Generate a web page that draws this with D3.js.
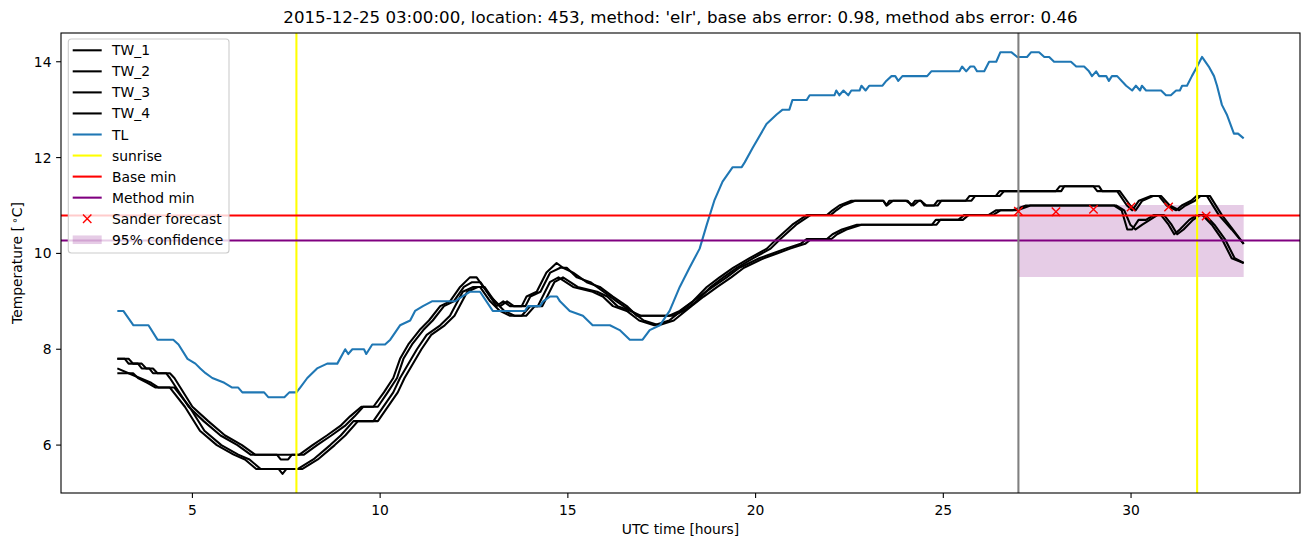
<!DOCTYPE html>
<html><head><meta charset="utf-8">
<script src="https://cdn.jsdelivr.net/npm/d3@7"></script>
<style>body{margin:0;background:#fff}svg{font-family:"DejaVu Sans",sans-serif}</style>
</head><body>
<svg id="c" width="1310" height="547"></svg>
<script>
// ---------- data ----------
const titleText = "2015-12-25 03:00:00, location: 453, method: 'elr', base abs error: 0.98, method abs error: 0.46";
const xTicks = [5, 10, 15, 20, 25, 30];
const yTicks = [6, 8, 10, 12, 14];

const TW_1 = [[3.0,7.8],[3.2,7.8],[3.3,7.7],[3.55,7.7],[3.65,7.6],[3.85,7.6],[3.95,7.5],[4.3,7.5],[4.4,7.4],[4.9,6.8],[5.3,6.5],[5.75,6.2],[6.2,6.0],[6.55,5.8],[7.3,5.8],[7.85,5.8],[8.2,6.0],[8.58,6.2],[8.94,6.4],[9.2,6.6],[9.5,6.8],[9.82,6.8],[10.1,7.1],[10.35,7.4],[10.53,7.8],[10.75,8.1],[11.05,8.4],[11.3,8.6],[11.6,8.9],[11.86,9.0],[12.13,9.3],[12.39,9.5],[12.57,9.5],[12.84,9.2],[13.1,8.9],[13.28,9.0],[13.46,8.9],[13.77,8.9],[13.9,9.1],[14.17,9.2],[14.43,9.6],[14.7,9.8],[14.87,9.7],[15.14,9.6],[15.5,9.4],[15.85,9.3],[16.2,9.1],[16.57,8.9],[16.84,8.7],[17.7,8.7],[17.98,8.8],[18.33,9.0],[18.7,9.3],[19.04,9.5],[19.4,9.7],[19.84,9.9],[20.3,10.1],[20.56,10.3],[20.98,10.6],[21.36,10.8],[21.9,10.8],[22.05,10.9],[22.23,11.0],[22.55,11.1],[23.4,11.1],[23.48,11.0],[23.56,11.1],[24.05,11.1],[24.15,11.0],[24.25,11.1],[24.4,11.1],[24.5,11.0],[24.75,11.0],[24.85,11.1],[25.6,11.1],[25.7,11.2],[26.4,11.2],[26.5,11.3],[28.14,11.3],[28.22,11.4],[29.15,11.4],[29.23,11.3],[29.63,11.3],[29.89,11.0],[30.03,10.9],[30.21,11.1],[30.53,11.2],[30.74,11.2],[30.95,11.0],[31.2,10.9],[31.35,11.0],[31.6,11.1],[31.75,11.2],[32.02,11.2],[32.34,10.8],[32.68,10.5],[33.0,10.2]];

const TW_2 = [[3.0,7.8],[3.3,7.8],[3.42,7.7],[3.65,7.7],[3.77,7.6],[3.95,7.6],[4.07,7.5],[4.4,7.5],[4.52,7.4],[5.0,6.8],[5.42,6.5],[5.87,6.2],[6.32,6.0],[6.67,5.8],[7.25,5.8],[7.35,5.7],[7.55,5.7],[7.65,5.8],[7.97,5.8],[8.32,6.0],[8.7,6.2],[9.06,6.4],[9.32,6.6],[9.55,6.8],[9.94,6.8],[10.2,7.1],[10.45,7.4],[10.62,7.8],[10.85,8.1],[11.15,8.4],[11.4,8.6],[11.7,8.9],[11.96,9.0],[12.23,9.3],[12.45,9.4],[12.67,9.4],[12.94,9.1],[13.2,8.9],[13.38,9.0],[13.56,8.9],[13.87,8.9],[14.0,9.1],[14.27,9.2],[14.53,9.6],[14.8,9.7],[14.97,9.7],[15.24,9.5],[15.6,9.4],[15.95,9.2],[16.3,9.0],[16.67,8.8],[16.94,8.7],[17.8,8.7],[18.08,8.8],[18.43,9.0],[18.8,9.3],[19.14,9.5],[19.5,9.7],[19.94,9.9],[20.4,10.1],[20.66,10.3],[21.08,10.6],[21.46,10.8],[22.0,10.8],[22.15,10.9],[22.33,11.0],[22.65,11.1],[23.4,11.1],[23.5,11.0],[23.66,11.1],[24.0,11.1],[24.2,11.0],[24.35,11.1],[24.4,11.1],[24.55,11.0],[24.85,11.0],[24.95,11.1],[25.75,11.1],[25.85,11.2],[26.5,11.2],[26.62,11.3],[28.0,11.3],[28.1,11.4],[29.0,11.4],[29.1,11.3],[29.7,11.3],[29.98,11.0],[30.12,10.9],[30.3,11.1],[30.6,11.2],[30.8,11.2],[31.03,11.0],[31.28,10.9],[31.45,11.0],[31.7,11.1],[31.85,11.2],[32.1,11.2],[32.42,10.8],[32.76,10.45],[33.0,10.2]];

const TW_3 = [[3.0,7.6],[3.3,7.5],[3.6,7.4],[3.9,7.3],[4.1,7.2],[4.4,7.2],[4.8,6.8],[5.2,6.3],[5.65,6.0],[6.1,5.8],[6.4,5.7],[6.7,5.5],[7.8,5.5],[8.22,5.7],[8.67,6.0],[8.95,6.2],[9.29,6.5],[9.82,6.5],[10.35,7.1],[10.53,7.4],[10.98,8.0],[11.24,8.3],[11.6,8.5],[11.86,8.7],[12.2,9.2],[12.48,9.3],[12.66,9.3],[12.93,9.0],[13.19,8.8],[13.46,8.7],[13.77,8.7],[14.0,8.9],[14.2,8.9],[14.52,9.4],[14.75,9.5],[15.14,9.3],[15.66,9.2],[15.93,9.1],[16.2,8.9],[16.57,8.8],[16.9,8.6],[17.3,8.5],[17.7,8.6],[18.17,8.9],[18.5,9.1],[18.86,9.3],[19.23,9.5],[19.57,9.7],[20.1,9.9],[20.45,10.0],[20.8,10.1],[21.2,10.2],[21.36,10.3],[21.9,10.3],[22.05,10.4],[22.3,10.5],[22.7,10.6],[24.7,10.6],[24.8,10.7],[25.4,10.7],[25.55,10.8],[26.2,10.8],[26.4,10.9],[26.85,10.9],[27.2,11.0],[29.55,11.0],[29.75,10.9],[29.9,10.5],[30.03,10.5],[30.2,10.7],[30.4,10.7],[30.6,10.8],[30.8,10.8],[31.0,10.6],[31.15,10.4],[31.3,10.5],[31.55,10.7],[31.75,10.8],[31.9,10.8],[32.15,10.6],[32.42,10.3],[32.68,9.9],[33.0,9.8]];

const TW_4 = [[3.0,7.5],[3.42,7.5],[3.55,7.4],[3.8,7.3],[4.02,7.2],[4.52,7.2],[4.92,6.8],[5.32,6.3],[5.77,6.0],[6.22,5.8],[6.52,5.7],[6.82,5.5],[7.3,5.5],[7.4,5.4],[7.5,5.5],[7.92,5.5],[8.34,5.7],[8.79,6.0],[9.07,6.2],[9.41,6.5],[9.94,6.5],[10.47,7.1],[10.65,7.4],[11.1,8.0],[11.36,8.3],[11.72,8.5],[11.98,8.7],[12.32,9.2],[12.6,9.3],[12.78,9.3],[13.05,9.0],[13.31,8.8],[13.58,8.7],[13.89,8.7],[14.12,8.9],[14.32,8.9],[14.64,9.4],[14.87,9.5],[15.26,9.3],[15.78,9.2],[16.05,9.1],[16.32,8.9],[16.69,8.8],[17.02,8.6],[17.42,8.5],[17.82,8.6],[18.29,8.9],[18.62,9.1],[18.98,9.3],[19.35,9.5],[19.69,9.7],[20.22,9.9],[20.57,10.0],[20.92,10.1],[21.32,10.2],[21.48,10.3],[22.02,10.3],[22.17,10.4],[22.42,10.5],[22.82,10.6],[24.82,10.6],[24.92,10.7],[25.52,10.7],[25.67,10.8],[26.32,10.8],[26.52,10.9],[26.97,10.9],[27.32,11.0],[29.6,11.0],[29.82,10.9],[29.98,10.6],[30.12,10.5],[30.3,10.6],[30.5,10.7],[30.7,10.8],[30.88,10.8],[31.08,10.6],[31.23,10.4],[31.4,10.5],[31.65,10.7],[31.83,10.8],[31.98,10.8],[32.22,10.6],[32.5,10.3],[32.76,9.9],[33.0,9.8]];

const TL = [[3.0,8.8],[3.16,8.8],[3.43,8.5],[3.83,8.5],[4.07,8.2],[4.49,8.2],[4.63,8.1],[4.87,7.8],[5.08,7.7],[5.21,7.6],[5.35,7.5],[5.53,7.4],[5.85,7.3],[6.06,7.2],[6.22,7.2],[6.33,7.1],[6.91,7.1],[7.02,7.0],[7.45,7.0],[7.58,7.1],[7.77,7.1],[7.87,7.2],[8.06,7.4],[8.32,7.6],[8.59,7.7],[8.86,7.7],[9.07,8.0],[9.15,7.9],[9.26,8.0],[9.57,8.0],[9.63,7.9],[9.79,8.1],[10.13,8.1],[10.27,8.2],[10.53,8.5],[10.8,8.6],[10.93,8.8],[11.14,8.9],[11.38,9.0],[11.99,9.0],[12.18,9.1],[12.39,9.2],[12.66,9.2],[13.0,8.8],[13.86,8.8],[13.94,8.9],[14.26,8.9],[14.34,9.0],[14.52,9.1],[14.71,9.1],[14.79,9.0],[15.05,8.8],[15.4,8.7],[15.66,8.5],[16.12,8.5],[16.38,8.4],[16.65,8.2],[16.99,8.2],[17.18,8.4],[17.45,8.5],[17.71,8.8],[17.98,9.3],[18.24,9.7],[18.51,10.1],[18.7,10.6],[18.9,11.1],[19.12,11.5],[19.39,11.8],[19.63,11.8],[19.71,11.9],[19.92,12.2],[20.29,12.7],[20.56,12.9],[20.72,13.0],[20.9,13.0],[20.98,13.2],[21.36,13.2],[21.44,13.3],[22.1,13.3],[22.15,13.4],[22.23,13.3],[22.34,13.4],[22.47,13.3],[22.55,13.4],[22.77,13.4],[22.82,13.5],[22.93,13.4],[23.03,13.5],[23.38,13.5],[23.48,13.6],[23.62,13.7],[23.72,13.7],[23.8,13.6],[23.91,13.7],[24.57,13.7],[24.68,13.8],[25.43,13.8],[25.5,13.9],[25.61,13.8],[25.72,13.9],[25.82,13.9],[25.9,13.8],[26.09,13.8],[26.22,14.0],[26.41,14.0],[26.52,14.2],[26.81,14.2],[26.97,14.1],[27.23,14.1],[27.34,14.2],[27.55,14.2],[27.69,14.1],[27.82,14.1],[27.95,14.0],[28.4,14.0],[28.54,13.9],[28.75,13.9],[28.88,13.8],[28.96,13.7],[29.07,13.8],[29.15,13.7],[29.34,13.7],[29.41,13.6],[29.49,13.7],[29.63,13.7],[29.87,13.5],[30.03,13.4],[30.13,13.5],[30.24,13.4],[30.29,13.5],[30.4,13.4],[30.8,13.4],[30.93,13.3],[31.06,13.3],[31.2,13.4],[31.3,13.4],[31.36,13.5],[31.49,13.5],[31.62,13.7],[31.76,13.9],[31.89,14.1],[32.07,13.9],[32.21,13.7],[32.29,13.5],[32.42,13.1],[32.55,12.9],[32.74,12.5],[32.85,12.5],[33.0,12.4]];

const sunriseTimes = [7.77, 31.76];
const forecastTime = 27.0;
const baseMin = 10.79;
const methodMin = 10.27;
const sanderTimes = [27, 28, 29, 30, 31, 32];
const sanderValues = [10.88, 10.87, 10.92, 10.97, 10.97, 10.78];
const confTimes = [27.0, 33.0];
const confLow = [9.51, 9.51];
const confHigh = [11.01, 11.01];

const legendLabels = ["TW_1","TW_2","TW_3","TW_4","TL","sunrise","Base min","Method min","Sander forecast","95% confidence"];

// ---------- layout ----------
const L = 61, R = 1300, T = 33, B = 493;
const svg = d3.select("#c");
const x = d3.scaleLinear().domain([1.5, 34.5]).range([L, R]);
const y = d3.scaleLinear().domain([5.0, 14.6]).range([B, T]);

svg.append("defs").append("clipPath").attr("id","clip")
  .append("rect").attr("x",L).attr("y",T).attr("width",R-L).attr("height",B-T);
const plot = svg.append("g").attr("clip-path","url(#clip)");

// confidence band (zorder 1)
const band = confTimes.map((t,i)=>({t, lo:confLow[i], hi:confHigh[i]}));
plot.append("path").datum(band)
  .attr("d", d3.area().x(d=>x(d.t)).y0(d=>y(d.lo)).y1(d=>y(d.hi)))
  .attr("fill","#800080").attr("fill-opacity",0.2);

const line = d3.line().x(d=>x(d[0])).y(d=>y(d[1]));
const lw = 2.08;
[TW_1,TW_2,TW_3,TW_4].forEach(s=>{
  plot.append("path").datum(s).attr("d",line).attr("fill","none")
    .attr("stroke","#000").attr("stroke-width",lw).attr("stroke-linejoin","round");
});
plot.append("path").datum(TL).attr("d",line).attr("fill","none")
  .attr("stroke","#1f77b4").attr("stroke-width",lw).attr("stroke-linejoin","round");

sunriseTimes.forEach(t=>{
  plot.append("line").attr("x1",x(t)).attr("x2",x(t)).attr("y1",T).attr("y2",B)
    .attr("stroke","#ffff00").attr("stroke-width",lw);
});
plot.append("line").attr("x1",L).attr("x2",R).attr("y1",y(baseMin)).attr("y2",y(baseMin))
  .attr("stroke","#ff0000").attr("stroke-width",lw);
plot.append("line").attr("x1",L).attr("x2",R).attr("y1",y(methodMin)).attr("y2",y(methodMin))
  .attr("stroke","#800080").attr("stroke-width",lw);
plot.append("line").attr("x1",x(forecastTime)).attr("x2",x(forecastTime)).attr("y1",T).attr("y2",B)
  .attr("stroke","#808080").attr("stroke-width",lw);

// Sander forecast markers
const ms = 4.2;
sanderTimes.forEach((t,i)=>{
  const cx = x(t), cy = y(sanderValues[i]);
  plot.append("path").attr("d",`M${cx-ms},${cy-ms}L${cx+ms},${cy+ms}M${cx-ms},${cy+ms}L${cx+ms},${cy-ms}`)
    .attr("stroke","#ff0000").attr("stroke-width",1.4).attr("fill","none");
});

// ---------- axes ----------
const fs = 13.89;
const ax = svg.append("g");
ax.append("rect").attr("x",L).attr("y",T).attr("width",R-L).attr("height",B-T)
  .attr("fill","none").attr("stroke","#000").attr("stroke-width",1.1);
xTicks.forEach(v=>{
  ax.append("line").attr("x1",x(v)).attr("x2",x(v)).attr("y1",B).attr("y2",B+4.9)
    .attr("stroke","#000").attr("stroke-width",1.1);
  ax.append("text").attr("x",x(v)).attr("y",515).attr("text-anchor","middle")
    .attr("font-size",fs).attr("fill","#000").text(v);
});
yTicks.forEach(v=>{
  ax.append("line").attr("x1",L-4.9).attr("x2",L).attr("y1",y(v)).attr("y2",y(v))
    .attr("stroke","#000").attr("stroke-width",1.1);
  ax.append("text").attr("x",51.5).attr("y",y(v)+5).attr("text-anchor","end")
    .attr("font-size",fs).attr("fill","#000").text(v);
});
svg.append("text").attr("x",(L+R)/2).attr("y",533.5).attr("text-anchor","middle")
  .attr("font-size",fs).text("UTC time [hours]");
const yl = svg.append("text").attr("transform",`translate(22,${(T+B)/2}) rotate(-90)`)
  .attr("text-anchor","middle").attr("font-size",fs);
yl.append("tspan").text("Temperature [\u2009");
yl.append("tspan").attr("font-size",10).attr("dy",-4).text("\u2218");
yl.append("tspan").attr("dy",4).text("C]");
svg.append("text").attr("x",(L+R)/2).attr("y",22.5).attr("text-anchor","middle")
  .attr("font-size",16.67).text(titleText);

// ---------- legend ----------
const lg = svg.append("g");
lg.append("rect").attr("x",68.3).attr("y",39).attr("width",160.7).attr("height",214).attr("rx",3)
  .attr("fill","#fff").attr("fill-opacity",0.8).attr("stroke","#cccccc").attr("stroke-width",1.1);
const rowY = i => 50.3 + i*21.05;
const hx1 = 72.7, hx2 = 101.7, tx = 112;
const styles = [
  {t:"line",c:"#000"},{t:"line",c:"#000"},{t:"line",c:"#000"},{t:"line",c:"#000"},
  {t:"line",c:"#1f77b4"},{t:"line",c:"#ffff00"},{t:"line",c:"#ff0000"},{t:"line",c:"#800080"},
  {t:"mark",c:"#ff0000"},{t:"patch",c:"#800080"}];
legendLabels.forEach((lab,i)=>{
  const cy = rowY(i), s = styles[i];
  if (s.t==="line") {
    lg.append("line").attr("x1",hx1).attr("x2",hx2).attr("y1",cy).attr("y2",cy)
      .attr("stroke",s.c).attr("stroke-width",lw);
  } else if (s.t==="mark") {
    const cx = (hx1+hx2)/2;
    lg.append("path").attr("d",`M${cx-ms},${cy-ms}L${cx+ms},${cy+ms}M${cx-ms},${cy+ms}L${cx+ms},${cy-ms}`)
      .attr("stroke",s.c).attr("stroke-width",1.4);
  } else {
    lg.append("rect").attr("x",hx1).attr("y",cy-4.3).attr("width",hx2-hx1).attr("height",8.6)
      .attr("fill",s.c).attr("fill-opacity",0.2);
  }
  lg.append("text").attr("x",tx).attr("y",cy+5).attr("font-size",fs).text(lab);
});
</script>
</body></html>
